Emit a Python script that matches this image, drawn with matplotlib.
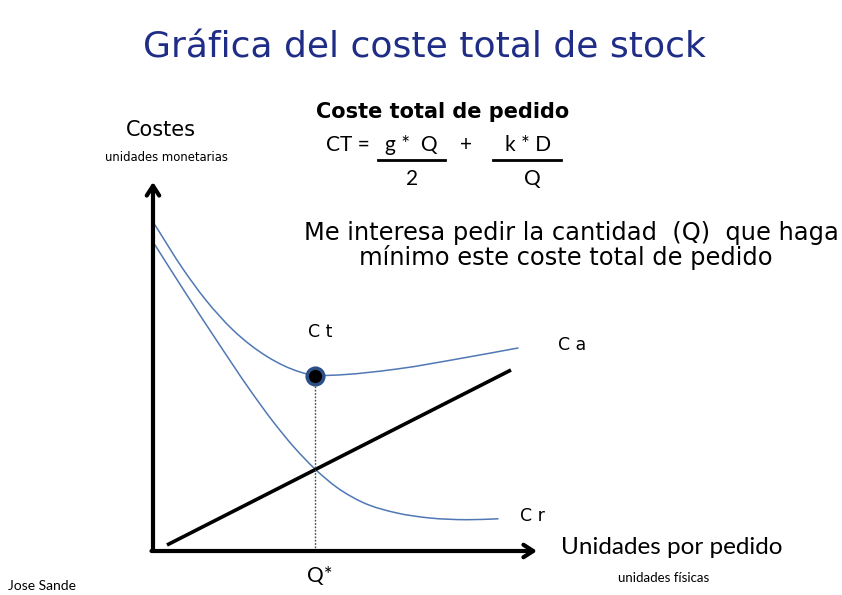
import matplotlib
matplotlib.use("Agg")
import matplotlib.pyplot as plt
from matplotlib.path import Path
from matplotlib.patches import PathPatch

# ---- data (chart units) ----
ca_x = [0.2, 3.0, 5.2, 8.0, 11.4, 14.7, 16.2, 17.7, 24.4, 31.0, 36.5]
ca_y = [32.6, 28.2, 25.2, 22.1, 19.45, 17.9, 17.55, 17.57, 18.2, 19.3, 20.3]
cr_x = [0.2, 3.0, 6.4, 9.7, 12.0, 14.0, 16.2, 18.4, 21.0, 24.4, 27.7, 31.4, 34.5]
cr_y = [30.6, 26.2, 21.0, 16.1, 12.95, 10.5, 8.2, 6.35, 4.85, 3.8, 3.3, 3.13, 3.22]
line_x = [1.4, 35.8]
line_y = [0.6, 18.1]
q_star = 16.2
ct_min = 17.5

W, H = 842, 595
fig = plt.figure(figsize=(W / 100, H / 100), dpi=100)
fig.patch.set_facecolor("white")

def fx(px):
    return px / W

def fy(py):
    return 1 - py / H

ax = fig.add_axes([fx(153), fy(551), fx(545) - fx(153), fy(175) - fy(551)])
ax.set_xlim(0, 39.2)
ax.set_ylim(0, 37.6)
ax.axis("off")


def smooth_path(xs, ys):
    """Cubic Hermite curve through the given points (drawn as Bezier segments)."""
    n = len(xs)
    d = [(ys[i + 1] - ys[i]) / (xs[i + 1] - xs[i]) for i in range(n - 1)]
    m = [d[0]]
    for i in range(1, n - 1):
        h0 = xs[i] - xs[i - 1]
        h1 = xs[i + 1] - xs[i]
        m.append((d[i - 1] * h1 + d[i] * h0) / (h0 + h1))
    m.append(d[-1])
    verts = [(xs[0], ys[0])]
    codes = [Path.MOVETO]
    for i in range(n - 1):
        h = xs[i + 1] - xs[i]
        verts += [(xs[i] + h / 3, ys[i] + m[i] * h / 3),
                  (xs[i + 1] - h / 3, ys[i + 1] - m[i + 1] * h / 3),
                  (xs[i + 1], ys[i + 1])]
        codes += [Path.CURVE4] * 3
    return Path(verts, codes)


blue = "#5078b4"
for xs, ys in ((ca_x, ca_y), (cr_x, cr_y)):
    ax.add_patch(PathPatch(smooth_path(xs, ys), fill=False, edgecolor=blue, lw=1.1,
                           capstyle="round"))
ax.plot(line_x, line_y, color="black", lw=2.6, solid_capstyle="butt")
ax.plot([q_star, q_star], [0, ct_min], color="#444444", lw=1.0, ls=(0, (1.2, 1.2)))
ax.plot([q_star], [ct_min], marker="o", ms=12, mfc="black", mec="#2c4f86",
        mew=2.5, clip_on=False, zorder=5)

# axes arrows
arrow = dict(arrowstyle="->,head_length=0.7,head_width=0.45", lw=3, color="black",
             shrinkA=0, shrinkB=0)
ax.annotate("", xy=(0, 36.9), xytext=(0, 0), arrowprops=arrow, annotation_clip=False)
ax.annotate("", xy=(38.4, 0), xytext=(-0.15, 0), arrowprops=arrow, annotation_clip=False)

# ---- texts ----
dv = "DejaVu Sans"
cal = "Lato"
fig.text(fx(424), fy(48), "Gráfica del coste total de stock", ha="center", va="center",
         fontsize=26, color="#1f2d86", family=dv)
fig.text(fx(443), fy(112), "Coste total de pedido", ha="center", va="center",
         fontsize=15, fontweight="bold", family=dv)
fig.text(fx(348), fy(145), "CT =", ha="center", va="center", fontsize=15, family=cal)
fig.text(fx(411), fy(145), "g *  Q", ha="center", va="center", fontsize=15, family=cal)
fig.text(fx(466), fy(145), "+", ha="center", va="center", fontsize=15, family=cal)
fig.text(fx(528), fy(145), "k * D", ha="center", va="center", fontsize=15, family=cal)
fig.text(fx(412), fy(179), "2", ha="center", va="center", fontsize=15, family=cal)
fig.text(fx(532), fy(179), "Q", ha="center", va="center", fontsize=15, family=cal)
fig.add_artist(plt.Line2D([fx(378), fx(445)], [fy(160), fy(160)], color="black", lw=2))
fig.add_artist(plt.Line2D([fx(493), fx(561)], [fy(160), fy(160)], color="black", lw=2))

fig.text(fx(161), fy(130), "Costes", ha="center", va="center", fontsize=15, family=dv)
fig.text(fx(166), fy(158), "unidades monetarias", ha="center", va="center",
         fontsize=8.4, family=dv)

fig.text(fx(571), fy(233), "Me interesa pedir la cantidad  (Q)  que haga", ha="center",
         va="center", fontsize=17.4, family=dv)
fig.text(fx(566), fy(258), "mínimo este coste total de pedido", ha="center",
         va="center", fontsize=17.4, family=dv)

fig.text(fx(320), fy(332), "C t", ha="center", va="center", fontsize=12.5, family=dv)
fig.text(fx(572), fy(345), "C a", ha="center", va="center", fontsize=12.5, family=dv)
fig.text(fx(532), fy(516), "C r", ha="center", va="center", fontsize=12.5, family=dv)

fig.text(fx(561), fy(548), "Unidades por pedido", ha="left", va="center",
         fontsize=17.5, family=cal)
fig.text(fx(320), fy(576), "Q*", ha="center", va="center", fontsize=15, family=cal)
fig.text(fx(664), fy(578), "unidades físicas", ha="center", va="center",
         fontsize=9.5, family=cal)
fig.text(fx(8), fy(586), "Jose Sande", ha="left", va="center", fontsize=10, family=cal)

fig.savefig("out.png", dpi=100, facecolor="white")
